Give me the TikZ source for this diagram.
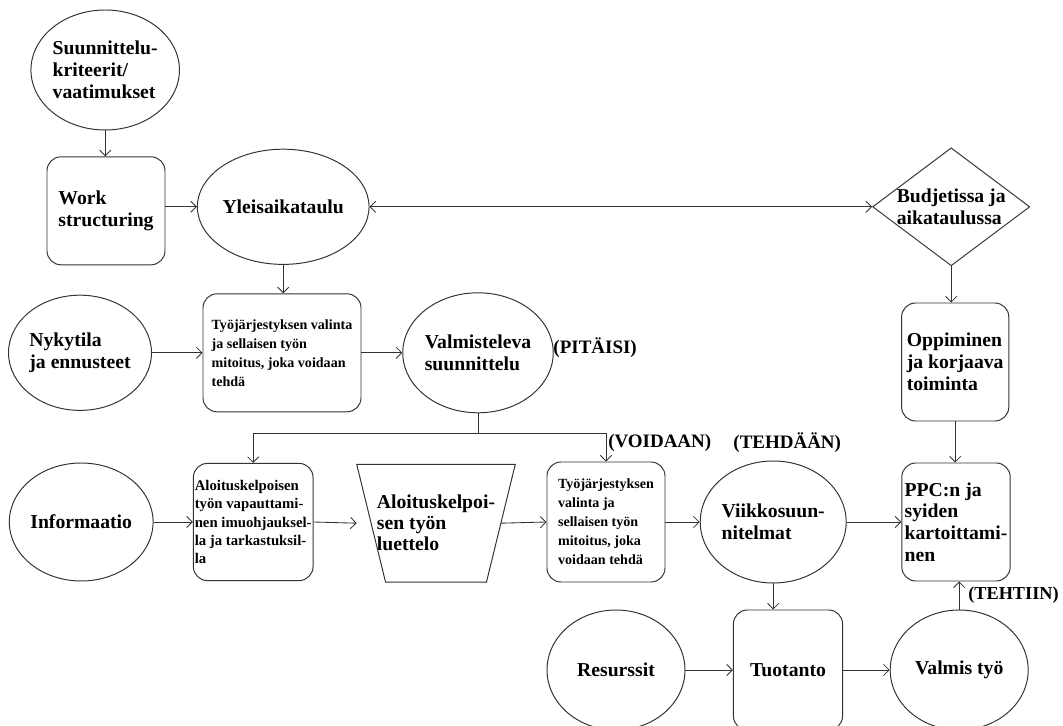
\documentclass[tikz,border=0pt]{standalone}
\usepackage{fontspec}
\setmainfont{Liberation Serif}
\usetikzlibrary{shapes.geometric,arrows.meta}

\begin{document}
\begin{tikzpicture}[
    oval/.style={ellipse, draw=black!80, line width=0.7pt, inner sep=0pt, align=left, font=\bfseries\fontsize{14}{15.5}\selectfont},
    box/.style={rectangle, draw=black!80, line width=0.7pt, rounded corners=0.35cm, inner sep=2pt, align=left, font=\bfseries\fontsize{14}{15.5}\selectfont},
    smallbox/.style={box, font=\bfseries\fontsize{10}{13.5}\selectfont},
    decision/.style={diamond, draw=black!80, line width=0.7pt, aspect=1.33, inner sep=-6pt, align=left, font=\bfseries\fontsize{14}{15.5}\selectfont},
    listbox/.style={rectangle, inner sep=1pt, align=left, font=\bfseries\fontsize{14}{15}\selectfont},
    tag/.style={anchor=west, inner sep=0pt, font=\bfseries\fontsize{13.5}{15.5}\selectfont},
    arrow/.style={-{Straight Barb[length=4pt,width=8pt]}, draw=black!80, line width=0.6pt},
    twoway/.style={arrow, {Straight Barb[length=4pt,width=8pt]}-{Straight Barb[length=4pt,width=8pt]}}
]
    \useasboundingbox (0,0) rectangle (26.575,18.15);

    % Top row
    \node[oval, minimum width=3.4cm, minimum height=3cm] (krit) at (2.63,16.4) {Suunnittelu-\\kriteerit/\\vaatimukset};
    \node[box, minimum width=2.95cm, minimum height=2.7cm] (work) at (2.65,12.88) {Work\\structuring};
    \node[oval, minimum width=3.48cm, minimum height=2.88cm] (yleis) at (7.08,12.98) {Yleisaikataulu};
    \node[decision, minimum width=3.93cm, minimum height=2.95cm] (budj) at (23.78,12.98) {Budjetissa ja\\aikataulussa};

    % Second row
    \node[oval, minimum width=3.5cm, minimum height=2.88cm] (nyky) at (2.0,9.33) {Nykytila\\ja ennusteet};
    \node[smallbox, minimum width=3.95cm, minimum height=2.95cm] (valinta) at (7.05,9.33) {Työjärjestyksen valinta\\ja sellaisen työn\\mitoitus, joka voidaan\\tehdä};
    \node[oval, minimum width=3.4cm, minimum height=3cm] (valm) at (11.95,9.33) {Valmisteleva\\suunnittelu};
    \node[tag] (pitaisi) at (13.83,9.45) {(PITÄISI)};
    \node[box, minimum width=2.68cm, minimum height=2.95cm] (oppi) at (23.88,9.1) {Oppiminen\\ja korjaava\\toiminta};

    % Third row
    \node[oval, minimum width=3.45cm, minimum height=2.95cm] (info) at (2.03,5.1) {Informaatio};
    \node[box, inner sep=1pt, font=\bfseries\fontsize{10.5}{13}\selectfont, minimum width=2.95cm, minimum height=2.93cm] (vapautus) at (6.33,5.1) {Aloituskelpoisen\\työn vapauttami-\\nen imuohjauksel-\\la ja tarkastuksil-\\la};
    \node[listbox, minimum width=3.95cm, minimum height=2.93cm] (luettelo) at (10.9,5.07) {Aloituskelpoi-\\sen työn\\luettelo};
    \draw[draw=black!80, line width=0.7pt] (luettelo.north west) -- (luettelo.north east)
        -- ([xshift=-0.72cm]luettelo.south east) -- ([xshift=0.72cm]luettelo.south west) -- cycle;
    \node[smallbox, minimum width=2.95cm, minimum height=3cm] (valinta2) at (15.15,5.1) {Työjärjestyksen\\valinta ja\\sellaisen työn\\mitoitus, joka\\voidaan tehdä};
    \node[tag] (voidaan) at (15.2,7.08) {(VOIDAAN)};
    \node[oval, minimum width=3.35cm, minimum height=3.05cm] (viikko) at (19.33,5.1) {Viikkosuun-\\nitelmat};
    \node[tag] (tehdaan) at (18.33,7.08) {(TEHDÄÄN)};
    \node[box, minimum width=2.7cm, minimum height=2.95cm] (ppc) at (23.9,5.1) {PPC:n ja\\syiden\\kartoittami-\\nen};

    % Bottom row
    \node[oval, minimum width=3.45cm, minimum height=3cm] (resu) at (15.4,1.4) {Resurssit};
    \node[box, minimum width=2.73cm, minimum height=3cm] (tuot) at (19.7,1.4) {Tuotanto};
    \node[oval, minimum width=3.45cm, minimum height=3cm] (valmis) at (23.98,1.4) {Valmis työ};
    \node[tag, font=\bfseries\fontsize{13}{15}\selectfont] (tehtiin) at (24.2,3.28) {(TEHTIIN)};

    % Arrows top
    \draw[arrow] (krit.south) -- (krit.south |- work.north);
    \draw[arrow] (work.east |- yleis.west) -- (yleis.west);
    \draw[twoway] (yleis.east) -- (budj.west);
    \draw[arrow] (yleis.south) -- (yleis.south |- valinta.north);
    \draw[arrow] (budj.south) -- (budj.south |- oppi.north);

    % Arrows second row
    \draw[arrow] (nyky.east) -- (valinta.west);
    \draw[arrow] (valinta.east) -- (valm.west);
    \draw[arrow] (valm.south) -- ++(0,-0.5) -| (vapautus.north);
    \draw[arrow] (valm.south) -- ++(0,-0.5) -| (valinta2.north);
    \draw[arrow] (oppi.south) -- (oppi.south |- ppc.north);

    % Arrows third row
    \draw[arrow] (info.east) -- (vapautus.west);
    \draw[arrow] (vapautus.east) -- (luettelo.west);
    \draw[arrow] ([xshift=-0.36cm]luettelo.east) -- (valinta2.west);
    \draw[arrow] (valinta2.east) -- (viikko.west);
    \draw[arrow] (viikko.east) -- (ppc.west);

    % Arrows bottom
    \draw[arrow] (viikko.south) -- (viikko.south |- tuot.north);
    \draw[arrow] (resu.east) -- (tuot.west);
    \draw[arrow] (tuot.east) -- (valmis.west);
    \draw[arrow] (valmis.north) -- (valmis.north |- ppc.south);
\end{tikzpicture}
\end{document}
